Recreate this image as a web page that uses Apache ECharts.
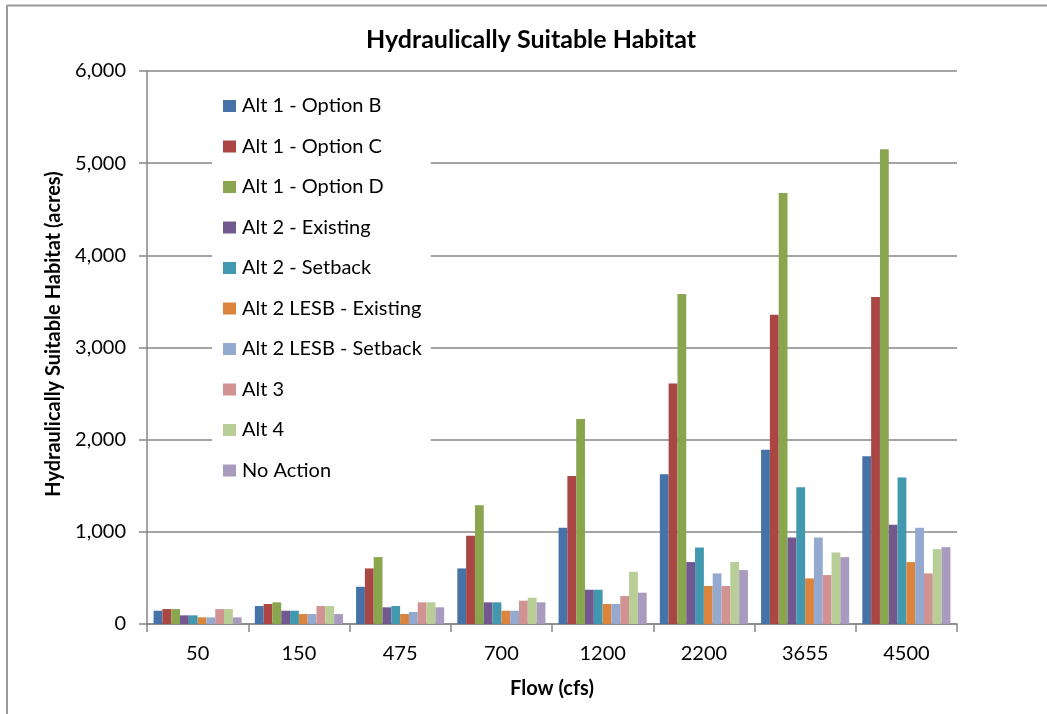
<!DOCTYPE html>
<html>
<head>
<meta charset="utf-8">
<title>Hydraulically Suitable Habitat</title>
<script src="https://cdn.jsdelivr.net/npm/echarts@6/dist/echarts.min.js"></script>
<style>
  html, body { margin: 0; padding: 0; background: #fff; }
  #chart { width: 1047px; height: 714px; }
</style>
</head>
<body>
<div id="chart"></div>
<script>
// Flow categories (cfs)
const flows = ['50', '150', '475', '700', '1200', '2200', '3655', '4500'];

// Hydraulically suitable habitat (acres) per alternative
const alt1OptionB   = [144, 195, 404, 603, 1043, 1625, 1890, 1820];
const alt1OptionC   = [162, 217, 603, 957, 1606, 2610, 3354, 3549];
const alt1OptionD   = [162, 235, 726, 1289, 2224, 3581, 4676, 5152];
const alt2Existing  = [94, 144, 181, 235, 372, 672, 939, 1076];
const alt2Setback   = [94, 144, 195, 235, 372, 830, 1484, 1589];
const alt2LesbExist = [72, 108, 108, 144, 217, 412, 495, 672];
const alt2LesbSet   = [72, 108, 130, 144, 217, 549, 939, 1043];
const alt3          = [162, 195, 235, 253, 303, 412, 531, 549];
const alt4          = [162, 195, 235, 285, 567, 672, 776, 812];
const noAction      = [72, 108, 181, 235, 340, 585, 726, 834];

const seriesNames = [
  'Alt 1 - Option B', 'Alt 1 - Option C', 'Alt 1 - Option D',
  'Alt 2 - Existing', 'Alt 2 - Setback', 'Alt 2 LESB - Existing',
  'Alt 2 LESB - Setback', 'Alt 3', 'Alt 4', 'No Action'
];
const seriesData = [
  alt1OptionB, alt1OptionC, alt1OptionD, alt2Existing, alt2Setback,
  alt2LesbExist, alt2LesbSet, alt3, alt4, noAction
];
const palette = [
  '#4572A7', '#AA4643', '#89A54E', '#71588F', '#4198AF',
  '#DB843D', '#93A9CF', '#D19392', '#B9CD96', '#A99BBD'
];

const FONT = 'Lato, "Open Sans", "Liberation Sans", sans-serif';

const chart = echarts.init(document.getElementById('chart'), null, { renderer: 'canvas' });

const option = {
  backgroundColor: '#ffffff',
  animation: false,
  color: palette,
  textStyle: { fontFamily: FONT, color: '#000' },
  grid: { left: 147, right: 90, top: 71, bottom: 90, containLabel: false },
  legend: {
    orient: 'vertical',
    left: 212,
    top: 88,
    padding: [8, 9, 8, 11],
    backgroundColor: '#ffffff',
    itemWidth: 13,
    itemHeight: 12,
    itemGap: 20.5,
    icon: 'rect',
    textStyle: { fontFamily: FONT, fontSize: 20, color: '#000', lineHeight: 20, padding: [0, 0, 0, 1] },
    data: seriesNames
  },
  xAxis: {
    type: 'category',
    data: flows,
    axisLine: { show: true, lineStyle: { color: '#868686', width: 1.5 } },
    axisTick: { show: true, alignWithLabel: false, length: 8, lineStyle: { color: '#868686', width: 1.5 } },
    axisLabel: { fontFamily: FONT, fontSize: 20, color: '#000', margin: 20 },
    splitLine: { show: false }
  },
  yAxis: {
    type: 'value',
    min: 0,
    max: 6000,
    interval: 1000,
    axisLine: { show: true, lineStyle: { color: '#868686', width: 1.5 } },
    axisTick: { show: true, inside: false, length: 8, lineStyle: { color: '#868686', width: 1.5 } },
    axisLabel: {
      fontFamily: FONT, fontSize: 20, color: '#000', margin: 21,
      formatter: v => v.toLocaleString('en-US')
    },
    splitLine: { show: true, lineStyle: { color: '#868686', width: 1.5 } }
  },
  series: seriesNames.map((name, i) => ({
    name: name,
    type: 'bar',
    data: seriesData[i],
    barGap: '0%',
    barCategoryGap: '13%',
    itemStyle: { color: palette[i] }
  })),
  graphic: [
    {
      type: 'text',
      x: 531,
      y: 40,
      style: {
        text: 'Hydraulically Suitable Habitat',
        fontFamily: FONT, fontSize: 25, fontWeight: 'bold', fill: '#000',
        align: 'center', verticalAlign: 'middle'
      }
    },
    {
      type: 'text',
      x: 54,
      y: 334,
      rotation: Math.PI / 2,
      style: {
        text: 'Hydraulically Suitable Habitat (acres)',
        fontFamily: FONT, fontSize: 20, fontWeight: 'bold', fill: '#000',
        align: 'center', verticalAlign: 'middle'
      }
    },
    {
      type: 'text',
      x: 552,
      y: 689,
      style: {
        text: 'Flow (cfs)',
        fontFamily: FONT, fontSize: 20, fontWeight: 'bold', fill: '#000',
        align: 'center', verticalAlign: 'middle'
      }
    },
    {
      type: 'line',
      shape: { x1: 7, y1: 5.5, x2: 1047, y2: 5.5 },
      style: { stroke: '#9a9a9a', lineWidth: 2 }
    },
    {
      type: 'line',
      shape: { x1: 7, y1: 5, x2: 7, y2: 714 },
      style: { stroke: '#9a9a9a', lineWidth: 2 }
    }
  ]
};

chart.setOption(option);
</script>
</body>
</html>
